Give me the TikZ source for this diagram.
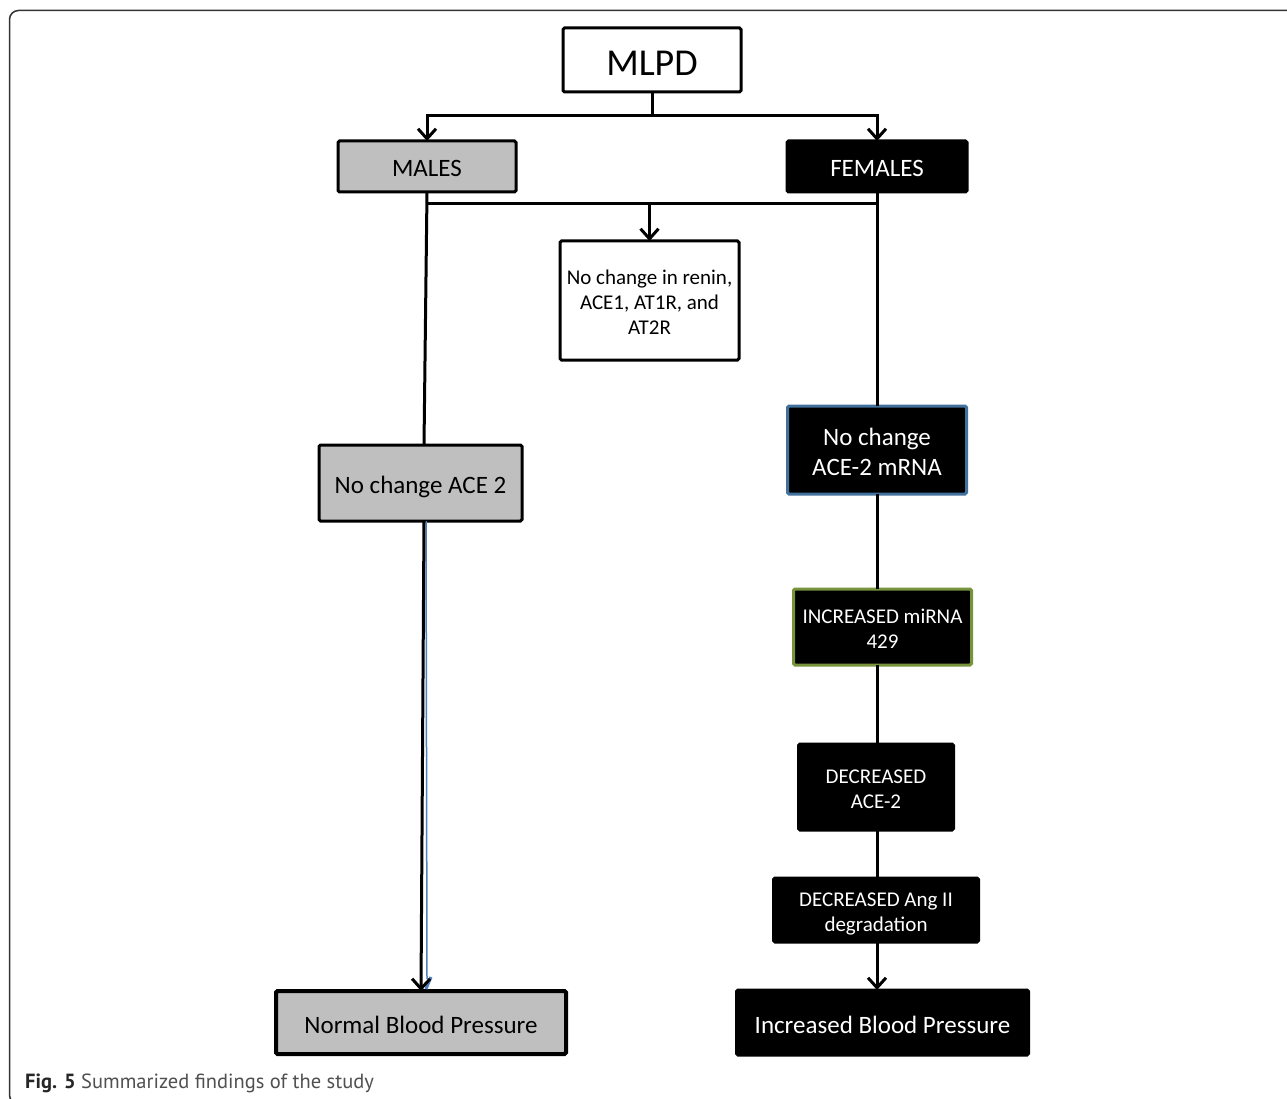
\documentclass[tikz,border=0pt]{standalone}
\usepackage{fontspec}
\setmainfont{Carlito}
\newfontfamily\captionfont{PT Sans}
\usetikzlibrary{arrows.meta,positioning,calc}
\definecolor{boxgray}{RGB}{191,191,191}
\definecolor{mrnablue}{RGB}{65,113,156}
\definecolor{mirgreen}{RGB}{119,147,60}
\definecolor{traceblue}{RGB}{79,129,189}
\definecolor{framegray}{RGB}{51,51,51}
\definecolor{captiongray}{RGB}{80,80,80}
\tikzstyle{flowbox} = [rectangle, draw, line width = 3pt, rounded corners = 1.5pt, outer sep = 0pt,
inner sep = 0pt, align = center, font = \fontsize{25}{30}\selectfont]
\tikzstyle{whitebox} = [flowbox, fill = white]
\tikzstyle{graybox} = [flowbox, fill = boxgray]
\tikzstyle{blackbox} = [flowbox, fill = black, text = white]
\tikzstyle{smalltext} = [font = \fontsize{21}{25}\selectfont]
% text a little below the middle, as in the original
\tikzstyle{onerow} = [text height = 23pt, text depth = 2pt]
\tikzstyle{tworow} = [text height = 44pt, text depth = 1.5pt]
\tikzstyle{plain} = [draw, line width = 3pt]
\tikzstyle{line} = [draw, line width = 3pt, -{Straight Barb[length = 10pt, width = 18pt]}]
\tikzstyle{trace} = [draw, traceblue, line width = 1.5pt]

\begin{document}
\begin{tikzpicture}[x = 1pt, y = -1pt]

\useasboundingbox (0,0) rectangle (1287,1099);
\clip (0,0) rectangle (1287,1099);
\fill [white] (0,0) rectangle (1287,1099);
\draw [framegray, line width = 1.5pt, rounded corners = 9pt] (9.5,10.5) rectangle (1310,1104);

\node [whitebox, minimum width = 178pt, minimum height = 64pt, font = \fontsize{38}{44}\selectfont, text height = 32.4pt, text depth = 2pt] (mlpd) at (652,60) {MLPD};
\node [graybox, onerow, minimum width = 178pt, minimum height = 51pt] (males) at (427,166.5) {MALES};
\node [blackbox, onerow, minimum width = 180pt, minimum height = 51pt] (females) at (877,166.5) {FEMALES};
\node [whitebox, smalltext, text height = 70pt, text depth = 1.5pt, minimum width = 179pt, minimum height = 119pt] (renin) at (649.5,300.5) {No change in renin,\\ACE1, AT1R, and\\AT2R};
\node [graybox, onerow, below = 253pt of males, xshift = -6.5pt, minimum width = 203pt, minimum height = 76pt] (acemale) {No change ACE 2};
\node [graybox, onerow, line width = 4pt, below = 470pt of acemale, xshift = 0.5pt, minimum width = 290pt, minimum height = 63pt] (normalbp) {Normal Blood Pressure};
\node [blackbox, draw = mrnablue, text height = 52pt, text depth = 1.9pt, below = 214pt of females, minimum width = 179pt, minimum height = 88pt] (mrna) {No change\\ACE-2 mRNA};
\node [blackbox, smalltext, tworow, draw = mirgreen, below = 95pt of mrna, xshift = 5.5pt, minimum width = 178pt, minimum height = 76pt] (mirna) {INCREASED miRNA\\429};
\node [blackbox, smalltext, tworow, below = 79pt of mirna, xshift = -6.5pt, minimum width = 155pt, minimum height = 86pt] (decace) {DECREASED\\ACE-2};
\node [blackbox, smalltext, tworow, below = 48pt of decace, minimum width = 205pt, minimum height = 64pt] (angii) {DECREASED Ang II\\degradation};
\node [blackbox, onerow, below = 48pt of angii, xshift = 6.5pt, minimum width = 292pt, minimum height = 65pt] (increasedbp) {Increased Blood Pressure};
\node [anchor = base west, inner sep = 0pt, text = captiongray, font = \captionfont\fontsize{20.5}{24}\selectfont] (caption) at (25,1088) {{\color{black!85}\bfseries Fig. 5} Summarized findings of the study};

\coordinate (topsplit) at ($(mlpd.south) + (0,24)$);
\coordinate (midsplit) at ($(renin.north) + (0,-37)$);
\path [plain] (mlpd.south) -- (topsplit);
\path [line] (topsplit) -| (males.north);
\path [line] (topsplit) -| (females.north);
\path [plain] (males.south |- midsplit) -- (females.south |- midsplit);
\path [line] (midsplit) -- (renin.north);
\path [plain] (males.south) -- ([xshift = 3.5pt]acemale.north);
\path [trace] ([xshift = 5.5pt]acemale.south) -- ($(normalbp.north) + (6,-12)$);
\path [trace, line width = 3pt] ($(normalbp.north) + (10,-14)$) -- ($(normalbp.north) + (5,-2)$);
\path [line] ([xshift = 3.5pt]acemale.south) -- (normalbp.north);
\path [plain] (females.south) -- (females.south |- mrna.north);
\path [plain] (females.south |- mrna.south) -- (females.south |- mirna.north);
\path [plain] (females.south |- mirna.south) -- (females.south |- decace.north);
\path [plain] (females.south |- decace.south) -- (females.south |- angii.north);
\path [line] (females.south |- angii.south) -- (females.south |- increasedbp.north);
\end{tikzpicture}
\end{document}
